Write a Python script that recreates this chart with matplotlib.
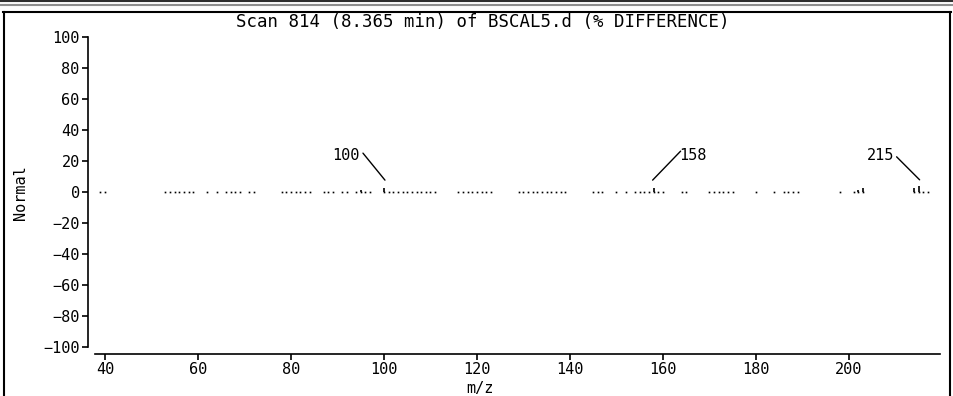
import numpy as np
import matplotlib.pyplot as plt
import matplotlib.transforms as mtransforms
from matplotlib.lines import Line2D

# m/z values that show a (near zero) % difference
masses = [39, 40, 53, 54, 55, 56, 57, 58, 59, 62, 64, 66, 67, 68, 69, 71, 72,
          78, 79, 80, 81, 82, 83, 84, 87, 88, 89, 91, 92, 94, 95, 96, 97,
          100, 101, 102, 103, 104, 105, 106, 107, 108, 109, 110, 111,
          116, 117, 118, 119, 120, 121, 122, 123,
          129, 130, 131, 132, 133, 134, 135, 136, 137, 138, 139,
          145, 146, 147, 150, 152, 154, 155, 156, 157, 158, 159, 160,
          164, 165, 170, 171, 172, 173, 174, 175, 180, 184,
          186, 187, 188, 189, 198, 201, 202, 203,
          214, 215, 216, 217]
# small bars, everything else ~0
bar_mz = [95, 100, 158, 202, 203, 214, 215]
bar_val = [1.5, 2.5, 2.5, 1.5, 2.5, 2.5, 4.0]

labels = [100, 158, 215]
title = "Scan 814 (8.365 min) of BSCAL5.d (% DIFFERENCE)"

font = "DejaVu Sans Mono"
fs = 11
plt.rcParams['font.family'] = font

fig = plt.figure(figsize=(9.54, 3.96), dpi=100)
W, H = 954, 396
ax = fig.add_axes([88 / W, (H - 354) / H, (940 - 88) / W, (354 - 37) / H])

ax.plot(masses, np.zeros(len(masses)), ls='none', marker='s', ms=1.2,
        mec='none', mfc='black')
ax.vlines(bar_mz, 0, bar_val, color='black', lw=1.2)

ax.set_xlim(36.34, 219.6)
ax.set_ylim(-104.5, 100)
ax.set_xticks(np.arange(40, 201, 20))
ax.set_yticks(np.arange(-100, 101, 20))
ax.spines['top'].set_visible(False)
ax.spines['right'].set_visible(False)
ax.spines['left'].set_bounds(-100, 100)
ax.spines['bottom'].set_bounds(37.9, 219.6)
for s in ['left', 'bottom']:
    ax.spines[s].set_linewidth(1.2)
ax.tick_params(length=4, width=1.2, labelsize=fs, pad=2)
ax.patch.set_alpha(0)

# peak labels with leader lines (offsets in pixels from the bar top)
lab = dict(zip(bar_mz, bar_val))
specs = {100: ((-21, 35), (1, 8), (-24, 33), 'right'),
         158: ((27, 37), (-1, 8), (26, 33), 'left'),
         215: ((-22, 29), (1, 6), (-24, 30), 'right')}
for mz in labels:
    (sx, sy), (ex, ey), (tx, ty), ha = specs[mz]
    top = (mz, lab[mz])
    end_tr = mtransforms.offset_copy(ax.transData, fig=fig, x=ex, y=ey,
                                     units='dots')
    ax.annotate('', xy=top, xycoords=end_tr, xytext=(sx - ex, sy - ey),
                textcoords='offset pixels',
                arrowprops=dict(arrowstyle='-', lw=1, color='black',
                                shrinkA=0, shrinkB=0))
    ax.annotate(str(mz), xy=top, xytext=(tx, ty), textcoords='offset pixels',
                ha=ha, va='center', fontsize=fs)

fig.text(483 / W, 1 - 22 / H, title, ha='center', va='center', fontsize=12.5)
fig.text(480 / W, 1 - 388 / H, "m/z", ha='center', va='center', fontsize=fs)
fig.text(20 / W, 1 - 193 / H, "Normal", ha='center', va='center',
         rotation=90, fontsize=fs)


# window frame
def hline(y, x0, x1, c, lw):
    fig.add_artist(Line2D([x0 / W, x1 / W], [1 - y / H, 1 - y / H],
                          color=c, lw=lw, transform=fig.transFigure))


def vline(x, y0, y1, c, lw):
    fig.add_artist(Line2D([x / W, x / W], [1 - y0 / H, 1 - y1 / H],
                          color=c, lw=lw, transform=fig.transFigure))


hline(1, 0, W, '#303030', 1.5)
hline(5, 0, W, '#909090', 1.5)
hline(12, 3, 951, 'black', 1.5)
vline(4, 12, H, 'black', 1.5)
vline(950, 12, H, 'black', 1.5)

fig.savefig('out.png', dpi=100)
